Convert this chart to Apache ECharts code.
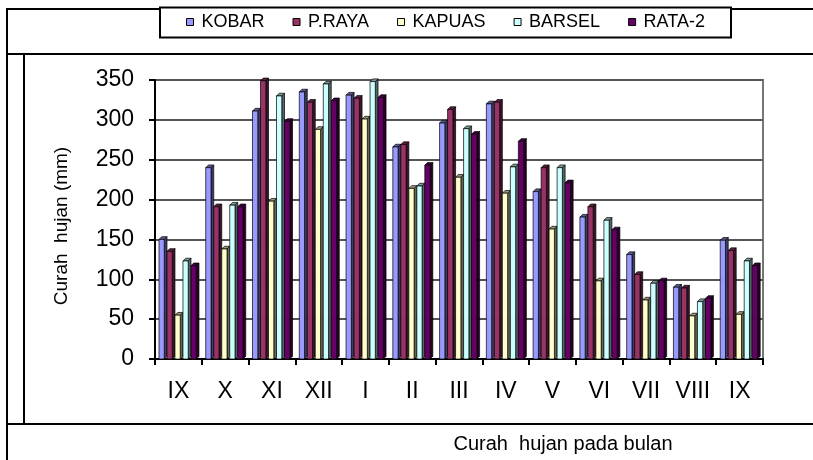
<!DOCTYPE html>
<html>
<head>
<meta charset="utf-8">
<script src="https://cdn.jsdelivr.net/npm/echarts@6/dist/echarts.min.js"></script>
<style>
html,body{margin:0;padding:0;background:#fff;}
#c{width:813px;height:460px;}
</style>
</head>
<body>
<div id="c"></div>
<script>
var categories = ['IX','X','XI','XII','I','II','III','IV','V','VI','VII','VIII','IX'];
var seriesNames = ['KOBAR','P.RAYA','KAPUAS','BARSEL','RATA-2'];
var kobar  = [150, 240, 311, 335, 331, 266, 296, 320, 210, 178, 131, 90, 149];
var praya  = [135, 191, 349, 322, 327, 269, 313, 322, 240, 191, 106, 89, 136];
var kapuas = [55, 138, 198, 288, 301, 214, 228, 208, 163, 98, 74, 54, 56];
var barsel = [123, 193, 330, 345, 348, 217, 289, 241, 240, 174, 95, 72, 123];
var rata2  = [117, 191, 298, 324, 328, 243, 282, 273, 221, 162, 98, 76, 117];
var yTicks = [0, 50, 100, 150, 200, 250, 300, 350];

var allValues = [kobar, praya, kapuas, barsel, rata2];
var colors = ['#9999FF','#993366','#FFFFCC','#CCFFFF','#660066'];
var FONT = '"Liberation Sans", Arial, sans-serif';

function shade(hex, f) {
  var n = parseInt(hex.slice(1), 16);
  var r = Math.round(((n >> 16) & 255) * f);
  var g = Math.round(((n >> 8) & 255) * f);
  var b = Math.round((n & 255) * f);
  return 'rgb(' + r + ',' + g + ',' + b + ')';
}

function renderItem(params, api) {
  var si = params.seriesIndex;
  var cat = api.value(0), val = api.value(1);
  var base = api.coord([cat, 0]);
  var top = api.coord([cat, val]);
  var band = api.size([1, 0])[0];
  var pitch = band * 0.171;
  var fw = pitch * 0.66;
  var d = pitch * 0.34;
  var x0 = base[0] - band / 2 + band * 0.085 + si * pitch;
  var yb = base[1], yt = top[1];
  var c = colors[si];
  return {
    type: 'group',
    children: [
      { type: 'polygon', shape: { points: [[x0 + fw, yt], [x0 + fw + d, yt - d], [x0 + fw + d, yb - d], [x0 + fw, yb]] },
        style: { fill: shade(c, 0.4), stroke: '#000', lineWidth: 0.7 } },
      { type: 'polygon', shape: { points: [[x0, yt], [x0 + d, yt - d], [x0 + fw + d, yt - d], [x0 + fw, yt]] },
        style: { fill: shade(c, 0.6), stroke: '#000', lineWidth: 0.7 } },
      { type: 'rect', shape: { x: x0, y: yt, width: fw, height: yb - yt },
        style: { fill: c, stroke: '#000', lineWidth: 0.7 } }
    ]
  };
}

var series = seriesNames.map(function (name, si) {
  return {
    name: name,
    type: 'custom',
    renderItem: renderItem,
    itemStyle: { color: colors[si] },
    encode: { x: 0, y: 1 },
    data: allValues[si].map(function (v, i) { return [i, v]; })
  };
});

var chart = echarts.init(document.getElementById('c'), null, { renderer: 'canvas' });
chart.setOption({
  animation: false,
  backgroundColor: '#fff',
  grid: { left: 155, right: 50, top: 80, bottom: 101, show: true, borderColor: '#777', borderWidth: 2, backgroundColor: 'transparent' },
  legend: {
    data: seriesNames,
    left: 186, top: 13,
    padding: 0,
    icon: 'rect',
    itemWidth: 7, itemHeight: 7,
    itemGap: 28,
    itemStyle: { borderColor: '#000', borderWidth: 1 },
    textStyle: { fontFamily: FONT, fontSize: 18, color: '#000', padding: [0, 0, 4, 3] }
  },
  xAxis: {
    type: 'category',
    data: categories,
    boundaryGap: true,
    axisLine: { lineStyle: { color: '#000', width: 2 } },
    axisTick: { show: true, alignWithLabel: false, length: 6, lineStyle: { color: '#000', width: 2 } },
    axisLabel: { color: '#000', fontFamily: FONT, fontSize: 23, margin: 21, interval: 0 },
    splitLine: { show: false }
  },
  yAxis: {
    type: 'value',
    min: yTicks[0], max: yTicks[yTicks.length - 1], interval: yTicks[1] - yTicks[0],
    axisLine: { show: true, lineStyle: { color: '#000', width: 2 } },
    axisTick: { show: true, length: 6, lineStyle: { color: '#000', width: 2 } },
    axisLabel: { color: '#000', fontFamily: FONT, fontSize: 23, margin: 21 },
    splitLine: { show: true, lineStyle: { color: '#555', width: 2 } }
  },
  graphic: [
    { type: 'line', z: -10, shape: { x1: 7, y1: 9, x2: 813, y2: 9 }, style: { stroke: '#000', lineWidth: 2 } },
    { type: 'line', z: -10, shape: { x1: 7, y1: 54, x2: 813, y2: 54 }, style: { stroke: '#000', lineWidth: 2 } },
    { type: 'line', z: -10, shape: { x1: 7, y1: 424, x2: 813, y2: 424 }, style: { stroke: '#000', lineWidth: 2 } },
    { type: 'line', z: -10, shape: { x1: 7, y1: 8, x2: 7, y2: 460 }, style: { stroke: '#000', lineWidth: 2 } },
    { type: 'line', z: -10, shape: { x1: 24, y1: 54, x2: 24, y2: 424 }, style: { stroke: '#000', lineWidth: 2 } },
    { type: 'rect', z: -5, shape: { x: 160, y: 7.5, width: 571, height: 30 }, style: { fill: '#fff', stroke: '#000', lineWidth: 2 } },
    { type: 'text', x: 62, y: 226, rotation: Math.PI / 2,
      style: { text: 'Curah  hujan (mm)', font: '19px ' + FONT, fill: '#000', align: 'center', verticalAlign: 'middle' } },
    { type: 'text', x: 563, y: 444,
      style: { text: 'Curah  hujan pada bulan', font: '20px ' + FONT, fill: '#000', align: 'center', verticalAlign: 'middle' } }
  ],
  series: series
});
</script>
</body>
</html>
